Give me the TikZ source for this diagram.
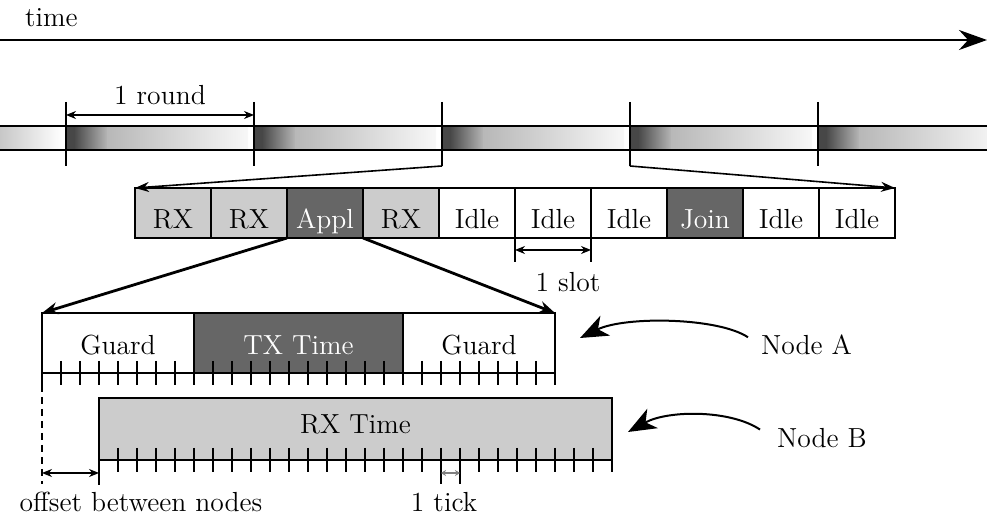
\documentclass[tikz,border=0pt]{standalone}
\usepackage{tikz}
\usetikzlibrary{arrows.meta, positioning, calc}
\tikzstyle{slot} = [rectangle, draw=black, line width=1pt, outer sep=0pt, inner sep=0pt,
    minimum width=38pt, minimum height=25pt, text height=16pt, text depth=0pt]
\tikzstyle{rxslot} = [slot, fill=black!20]
\tikzstyle{idleslot} = [slot, fill=white]
\tikzstyle{darkslot} = [slot, fill=black!60, text=white]
\tikzstyle{frame} = [rectangle, draw=black, line width=1pt, outer sep=0pt, inner sep=0pt,
    minimum height=30pt, text height=12pt, text depth=0pt]
\tikzstyle{guardbox} = [frame, minimum width=76pt, fill=white]
\tikzstyle{txbox} = [frame, minimum width=104.5pt, fill=black!60, text=white]
\tikzstyle{rxbox} = [frame, minimum width=256.5pt, minimum height=31pt, text height=5pt, fill=black!20]
\tikzstyle{edge} = [line width=1pt]
\tikzstyle{dimarrow} = [line width=0.6pt, {Stealth[length=5pt,width=4pt]}-{Stealth[length=5pt,width=4pt]}]
\tikzstyle{zoomline} = [line width=0.8pt, -{Stealth[length=7pt,width=5pt]}]
\tikzstyle{zoomthick} = [line width=1.4pt, -{Stealth[length=8pt,width=6pt]}]
\tikzstyle{pointer} = [line width=1pt, -{Stealth[length=14pt,width=11pt,inset=4pt]}]
\tikzstyle{timeline} = [line width=1pt, -{Stealth[length=14pt,width=10pt]}]

\begin{document}
\begin{tikzpicture}[x=0.5pt, y=-0.5pt, font=\fontsize{13.8}{16}\selectfont]
  \useasboundingbox (0,0) rectangle (987,518);

  % time axis
  \coordinate (tstart) at (0,40);
  \coordinate (tend) at (987,40);
  \draw[timeline] (tstart) -- (tend);
  \node (timetxt) [anchor=base west] at (18,27) {time};

  % rounds bar
  \begin{scope}
    \clip (0,126) rectangle (987,150);
    \shade[left color=black!22, right color=white] (0,126) rectangle (62,150);
    \foreach \x in {66,254,442,630,818} {
      \fill[black!72] (\x,126) rectangle (\x+9,150);
      \shade[left color=black!72, right color=black!28] (\x+8,126) rectangle (\x+42,150);
      \shade[left color=black!28, right color=black!3] (\x+41,126) rectangle (\x+182,150);
    }
  \end{scope}
  \draw[edge] (0,126) -- (987,126);
  \draw[edge] (0,150) -- (987,150);
  \foreach \x [count=\i] in {66,254,442,630,818}
    \draw[edge] (\x,102) coordinate (rt\i) -- (\x,166) coordinate (rb\i);
  \draw[dimarrow] ($(rt1)+(0,13)$) -- ($(rt2)+(0,13)$);
  \node (roundtxt) [anchor=base] at (160,105) {1 round};

  % slots of one round
  \node (s1)  [rxslot] at (173,213) {RX};
  \node (s2)  [rxslot, right=0pt of s1] {RX};
  \node (s3)  [darkslot, right=0pt of s2] {Appl};
  \node (s4)  [rxslot, right=0pt of s3] {RX};
  \node (s5)  [idleslot, right=0pt of s4] {Idle};
  \node (s6)  [idleslot, right=0pt of s5] {Idle};
  \node (s7)  [idleslot, right=0pt of s6] {Idle};
  \node (s8)  [darkslot, right=0pt of s7] {Join};
  \node (s9)  [idleslot, right=0pt of s8] {Idle};
  \node (s10) [idleslot, right=0pt of s9] {Idle};

  \draw[zoomline] (rb3) -- (s1.north west);
  \draw[zoomline] (rb4) -- (s10.north east);

  \draw[edge] (s6.south west) -- ++(0,24);
  \draw[edge] (s6.south east) -- ++(0,24);
  \draw[dimarrow] ($(s6.south west)+(0,12)$) -- ($(s6.south east)+(0,12)$);
  \node (slottxt) [anchor=base] at (568,292) {1 slot};

  % one slot, node A
  \node (guardA) [guardbox] at (118,343) {Guard};
  \node (tx)     [txbox, right=0pt of guardA] {TX Time};
  \node (guardB) [guardbox, right=0pt of tx] {Guard};
  \draw[edge] (guardA.south west) -- (guardB.south east);
  \foreach \k in {0,...,27}
    \draw[edge] ($(guardA.south west)+(\k*19,-12)$) -- ++(0,24);

  \draw[zoomthick] (s3.south west) -- (guardA.north west);
  \draw[zoomthick] (s3.south east) -- (guardB.north east);

  % node B
  \node (rx) [rxbox] at (355.5,429) {RX Time};
  \foreach \k in {0,...,27}
    \draw[edge] ($(rx.south west)+(\k*19,-12)$) -- ++(0,24);
  \draw[edge] (rx.south west) -- ++(0,25);

  % offset and tick
  \draw[edge, dash pattern=on 3.5pt off 2.5pt] ($(guardA.south west)+(0,12)$) -- ++(0,99);
  \draw[dimarrow] ($(guardA.south west)+(0,100)$) -- ($(rx.south west)+(0,13)$);
  \node (offtxt) [anchor=base] at (141,512) {offset between nodes};

  \draw[edge] ($(rx.south west)+(342,0)$) -- ++(0,24);
  \draw[edge] ($(rx.south west)+(361,0)$) -- ++(0,24);
  \coordinate (tk1) at ($(rx.south west)+(342,13)$);
  \coordinate (tk2) at ($(rx.south west)+(361,13)$);
  \draw[dimarrow, black!50, {Stealth[length=2.5pt,width=3pt]}-{Stealth[length=2.5pt,width=3pt]}] (tk1) -- (tk2);
  \node (ticktxt) [anchor=base] at (444,512) {1 tick};

  % labels
  \node (nodeA) [anchor=base west] at (754,355) {Node A};
  \node (nodeB) [anchor=base west] at (770,448) {Node B};
  \draw[pointer] ([shift={(-3pt,4pt)}]nodeA.west) .. controls +(-30,-20) and +(45,-22) .. ([shift={(12.5pt,2.5pt)}]guardB.east);
  \draw[pointer] ([shift={(-5pt,4.5pt)}]nodeB.west) .. controls +(-30,-20) and +(40,-22) .. ([shift={(8pt,-1.5pt)}]rx.east);
\end{tikzpicture}
\end{document}
